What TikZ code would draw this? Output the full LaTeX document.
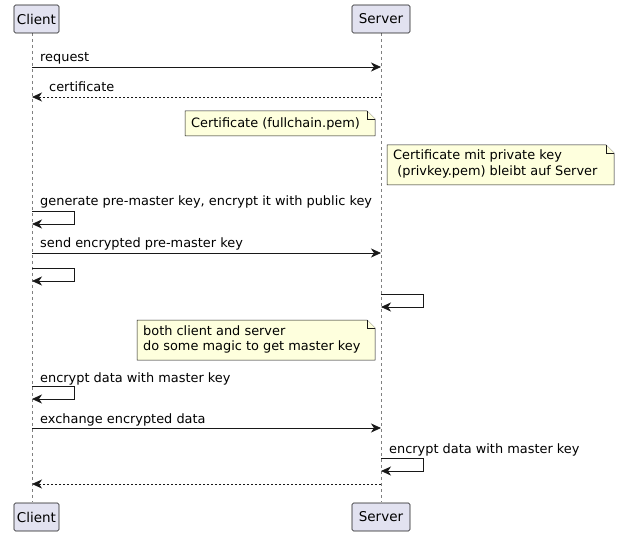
\documentclass[tikz,border=0pt]{standalone}
\usepackage{fontspec}
\setmainfont{DejaVu Sans}
\usetikzlibrary{arrows.meta}
\definecolor{part}{HTML}{E2E2F0}
\definecolor{notec}{HTML}{FEFFDD}
\definecolor{ln}{HTML}{181818}
\begin{document}
\begin{tikzpicture}[x=1pt,y=-1pt,
  lbl/.style={font=\fontsize{12.9}{15.3}\selectfont,inner sep=0pt,anchor=base west},
  msg/.style={draw=ln,line width=0.8pt,-{Stealth[length=10pt,width=9pt,inset=3pt]}},
  ret/.style={msg,dash pattern=on 2pt off 2pt},
  box/.style={draw=ln,fill=part,line width=0.6pt,rounded corners=1.5pt,minimum height=28,inner xsep=3pt,font=\fontsize{13.5}{15}\selectfont},
  note/.style={draw=ln,fill=notec,line width=0.5pt}]
\useasboundingbox (0,0) rectangle (621,537);
\coordinate (ct) at (32,33); \coordinate (cb) at (32,502);
\coordinate (st) at (381,33); \coordinate (sb) at (381,502);
\draw[gray,dash pattern=on 3pt off 3pt,line width=0.5pt] (ct)--(cb) (st)--(sb);
\node[box,minimum width=45] (c1) at (36.5,19) {Client};
\node[box,minimum width=58] (s1) at (381,19) {Server};
\node[box,minimum width=45] (c2) at (36.5,517) {Client};
\node[box,minimum width=58] (s2) at (381,517) {Server};
\coordinate (a1) at (32,67); \coordinate (b1) at (381,67);
\draw[msg] (a1)--(b1); \node[lbl] (l1) at (40,62) {request};
\coordinate (a2) at (32,97); \coordinate (b2) at (381,97);
\draw[ret] (b2)--(a2); \node[lbl] (l2) at (49,92) {certificate};
\draw[note] (185,111)--(367,111)--(375,119)--(375,136)--(185,136)--cycle;
\draw[note] (367,111)--(367,119)--(375,119);
\node[lbl] (n1) at (191,128) {Certificate (fullchain.pem)};
\draw[note] (387,145)--(606,145)--(614,153)--(614,185)--(387,185)--cycle;
\draw[note] (606,145)--(606,153)--(614,153);
\node[lbl,align=left,anchor=north west] (n2) at (393,150) {Certificate mit private key\\ \ (privkey.pem) bleibt auf Server};
\coordinate (c3a) at (32,211); \coordinate (c3b) at (32,224);
\draw[msg] (c3a)--(74,211)--(74,224)--(c3b);
\node[lbl] (l3) at (40,206) {generate pre-master key, encrypt it with public key};
\coordinate (a4) at (32,253); \coordinate (b4) at (381,253);
\draw[msg] (a4)--(b4); \node[lbl] (l4) at (40,248) {send encrypted pre-master key};
\coordinate (c5a) at (32,268); \coordinate (c5b) at (32,281);
\draw[msg] (c5a)--(74,268)--(74,281)--(c5b);
\coordinate (s6a) at (381,294); \coordinate (s6b) at (381,307);
\draw[msg] (s6a)--(423,294)--(423,307)--(s6b);
\draw[note] (137,320)--(367,320)--(375,328)--(375,360)--(137,360)--cycle;
\draw[note] (367,320)--(367,328)--(375,328);
\node[lbl,align=left,anchor=north west] (n3) at (143,325) {both client and server\\do some magic to get master key};
\coordinate (c7a) at (32,386); \coordinate (c7b) at (32,399);
\draw[msg] (c7a)--(74,386)--(74,399)--(c7b);
\node[lbl] (l7) at (40,382) {encrypt data with master key};
\coordinate (a8) at (32,428); \coordinate (b8) at (381,428);
\draw[msg] (a8)--(b8); \node[lbl] (l8) at (40,423) {exchange encrypted data};
\coordinate (s9a) at (381,458); \coordinate (s9b) at (381,471);
\draw[msg] (s9a)--(423,458)--(423,471)--(s9b);
\node[lbl] (l9) at (389,453) {encrypt data with master key};
\coordinate (a10) at (32,484); \coordinate (b10) at (381,484);
\draw[ret] (b10)--(a10);
\end{tikzpicture}
\end{document}
